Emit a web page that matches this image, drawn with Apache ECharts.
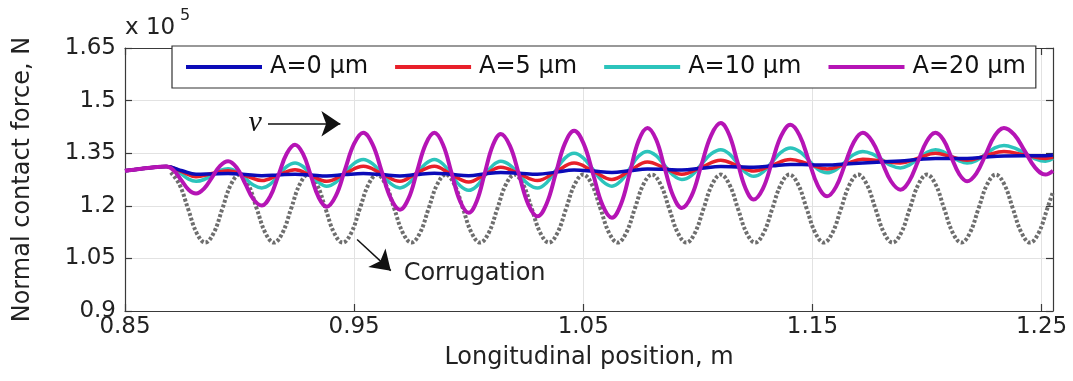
<!DOCTYPE html>
<html>
<head>
<meta charset="utf-8">
<script src="https://cdn.jsdelivr.net/npm/echarts@6/dist/echarts.min.js"></script>
<style>
html,body{margin:0;padding:0;background:#fff;}
#chart{width:1073px;height:381px;}
</style>
</head>
<body>
<div id="chart"></div>
<script>
// ---- data ----
const seriesNames = ['A=0 μm', 'A=5 μm', 'A=10 μm', 'A=20 μm'];
const xTickValues = [0.85, 0.95, 1.05, 1.15, 1.25];
const yTickValues = [0.9, 1.05, 1.2, 1.35, 1.5, 1.65];

// longitudinal position (m) for the small-amplitude curves (A=0, A=5)
const xPos = [0.85, 0.86, 0.868, 0.875, 0.881, 0.888, 0.895, 0.9025, 0.9097, 0.917,
  0.9242, 0.931, 0.938, 0.946, 0.954, 0.962, 0.970, 0.977, 0.985, 0.992,
  1.000, 1.007, 1.014, 1.022, 1.030, 1.038, 1.046, 1.0543, 1.0625, 1.0703,
  1.078, 1.0855, 1.093, 1.1015, 1.110, 1.1172, 1.1244, 1.1324, 1.1404, 1.1484,
  1.1564, 1.1642, 1.172, 1.1802, 1.1884, 1.1961, 1.2037, 1.2106, 1.2175, 1.2256,
  1.2336, 1.2427, 1.2517, 1.255];

// normal contact force (x 1e5 N)
const forceA0 = [1.300, 1.308, 1.312, 1.300, 1.290, 1.291, 1.292, 1.289, 1.286, 1.288,
  1.290, 1.288, 1.285, 1.289, 1.292, 1.289, 1.285, 1.289, 1.293, 1.290,
  1.286, 1.291, 1.295, 1.293, 1.290, 1.296, 1.302, 1.299, 1.295, 1.300,
  1.305, 1.304, 1.302, 1.307, 1.312, 1.311, 1.310, 1.314, 1.318, 1.317,
  1.316, 1.319, 1.322, 1.325, 1.328, 1.332, 1.335, 1.335, 1.335, 1.339,
  1.342, 1.343, 1.343, 1.345];
const forceA5 = [1.300, 1.308, 1.312, 1.297, 1.283, 1.292, 1.300, 1.286, 1.272, 1.288,
  1.303, 1.287, 1.270, 1.292, 1.313, 1.292, 1.270, 1.292, 1.313, 1.291,
  1.268, 1.289, 1.310, 1.291, 1.272, 1.297, 1.322, 1.299, 1.275, 1.300,
  1.325, 1.308, 1.290, 1.310, 1.330, 1.315, 1.299, 1.316, 1.332, 1.319,
  1.305, 1.319, 1.333, 1.328, 1.322, 1.336, 1.350, 1.340, 1.330, 1.343,
  1.355, 1.345, 1.335, 1.338];

// longitudinal position (m) for the larger-amplitude curves (A=10, A=20)
const xFine = [0.85, 0.86, 0.868, 0.87125, 0.8745, 0.87775, 0.881,
  0.8845, 0.888, 0.8915, 0.895, 0.8987, 0.9024, 0.906, 0.9097,
  0.9133, 0.917, 0.9206, 0.9242, 0.9277, 0.9311, 0.9346, 0.938,
  0.942, 0.946, 0.950, 0.954, 0.958, 0.962, 0.966, 0.970,
  0.97375, 0.9775, 0.98125, 0.985, 0.98875, 0.9925, 0.99625, 1.000,
  1.0035, 1.007, 1.0105, 1.014, 1.018, 1.022, 1.026, 1.030,
  1.034, 1.038, 1.042, 1.046, 1.0501, 1.0543, 1.0584, 1.0625,
  1.0664, 1.0703, 1.0741, 1.078, 1.0818, 1.0855, 1.0893, 1.093,
  1.0973, 1.1015, 1.1058, 1.110, 1.1136, 1.1172, 1.1208, 1.1244,
  1.1284, 1.1324, 1.1364, 1.1404, 1.1444, 1.1484, 1.1524, 1.1564,
  1.1603, 1.1642, 1.1681, 1.172, 1.1761, 1.1802, 1.1843, 1.1884,
  1.1922, 1.1961, 1.1999, 1.2037, 1.2072, 1.2106, 1.2141, 1.2175,
  1.2215, 1.2256, 1.2296, 1.2336, 1.2381, 1.2427, 1.2472, 1.2517,
  1.255];
const forceA10 = [1.300, 1.308, 1.312, 1.306, 1.291, 1.276, 1.270,
  1.275, 1.288, 1.301, 1.306, 1.298, 1.279, 1.259, 1.251,
  1.261, 1.287, 1.312, 1.322, 1.312, 1.289, 1.266, 1.256,
  1.267, 1.294, 1.321, 1.332, 1.320, 1.292, 1.263, 1.251,
  1.263, 1.292, 1.320, 1.332, 1.319, 1.288, 1.257, 1.244,
  1.256, 1.286, 1.315, 1.327, 1.316, 1.289, 1.262, 1.251,
  1.266, 1.301, 1.336, 1.350, 1.336, 1.303, 1.270, 1.256,
  1.271, 1.306, 1.341, 1.355, 1.343, 1.315, 1.287, 1.275,
  1.287, 1.318, 1.348, 1.360, 1.349, 1.322, 1.295, 1.284,
  1.296, 1.325, 1.353, 1.365, 1.355, 1.330, 1.304, 1.294,
  1.303, 1.325, 1.346, 1.355, 1.348, 1.332, 1.315, 1.308,
  1.316, 1.334, 1.352, 1.360, 1.354, 1.341, 1.328, 1.322,
  1.329, 1.347, 1.365, 1.372, 1.365, 1.350, 1.334, 1.327,
  1.335];
const forceA20 = [1.300, 1.308, 1.312, 1.301, 1.274, 1.246, 1.235,
  1.249, 1.281, 1.314, 1.327, 1.309, 1.264, 1.219, 1.201,
  1.226, 1.288, 1.349, 1.374, 1.348, 1.286, 1.223, 1.197,
  1.228, 1.303, 1.377, 1.408, 1.376, 1.299, 1.221, 1.189,
  1.221, 1.299, 1.376, 1.408, 1.375, 1.294, 1.213, 1.180,
  1.213, 1.293, 1.372, 1.405, 1.371, 1.288, 1.204, 1.170,
  1.206, 1.292, 1.378, 1.414, 1.378, 1.290, 1.202, 1.166,
  1.204, 1.294, 1.385, 1.422, 1.389, 1.308, 1.227, 1.194,
  1.229, 1.315, 1.401, 1.436, 1.404, 1.327, 1.250, 1.218,
  1.249, 1.325, 1.400, 1.431, 1.401, 1.329, 1.257, 1.227,
  1.254, 1.318, 1.382, 1.408, 1.384, 1.327, 1.270, 1.246,
  1.270, 1.327, 1.384, 1.408, 1.388, 1.339, 1.290, 1.270,
  1.292, 1.346, 1.400, 1.422, 1.403, 1.356, 1.309, 1.289,
  1.300];

// corrugation profile (drawn on the same force scale)
const corrX = [0.87, 0.87375, 0.8775, 0.88125, 0.885, 0.88875, 0.8925, 0.89625,
  0.90, 0.90375, 0.9075, 0.91125, 0.915, 0.91875, 0.9225, 0.92625,
  0.93, 0.93375, 0.9375, 0.94125, 0.945, 0.94875, 0.9525, 0.95625,
  0.96, 0.96375, 0.9675, 0.97125, 0.975, 0.97875, 0.9825, 0.98625,
  0.99, 0.99375, 0.9975, 1.00125, 1.005, 1.00875, 1.0125, 1.01625,
  1.02, 1.02375, 1.0275, 1.03125, 1.035, 1.03875, 1.0425, 1.04625,
  1.05, 1.05375, 1.0575, 1.06125, 1.065, 1.06875, 1.0725, 1.07625,
  1.08, 1.08375, 1.0875, 1.09125, 1.095, 1.09875, 1.1025, 1.10625,
  1.11, 1.11375, 1.1175, 1.12125, 1.125, 1.12875, 1.1325, 1.13625,
  1.14, 1.14375, 1.1475, 1.15125, 1.155, 1.15875, 1.1625, 1.16625,
  1.17, 1.17375, 1.1775, 1.18125, 1.185, 1.18875, 1.1925, 1.19625,
  1.20, 1.20375, 1.2075, 1.21125, 1.215, 1.21875, 1.2225, 1.22625,
  1.23, 1.23375, 1.2375, 1.24125, 1.245, 1.24875, 1.2525, 1.255];
const corrY = [1.295, 1.261, 1.192, 1.123, 1.095, 1.123, 1.192, 1.261,
  1.289, 1.261, 1.192, 1.123, 1.095, 1.123, 1.192, 1.261,
  1.289, 1.261, 1.192, 1.123, 1.095, 1.123, 1.192, 1.261,
  1.289, 1.261, 1.192, 1.123, 1.095, 1.123, 1.192, 1.261,
  1.289, 1.261, 1.192, 1.123, 1.095, 1.123, 1.192, 1.261,
  1.289, 1.261, 1.192, 1.123, 1.095, 1.123, 1.192, 1.261,
  1.289, 1.261, 1.192, 1.123, 1.095, 1.123, 1.192, 1.261,
  1.289, 1.261, 1.192, 1.123, 1.095, 1.123, 1.192, 1.261,
  1.289, 1.261, 1.192, 1.123, 1.095, 1.123, 1.192, 1.261,
  1.289, 1.261, 1.192, 1.123, 1.095, 1.123, 1.192, 1.261,
  1.289, 1.261, 1.192, 1.123, 1.095, 1.123, 1.192, 1.261,
  1.289, 1.261, 1.192, 1.123, 1.095, 1.123, 1.192, 1.261,
  1.289, 1.261, 1.192, 1.123, 1.095, 1.123, 1.192, 1.240];

// annotation anchor points (data coordinates)
const vArrow = [[0.9124, 1.434], [0.9440, 1.434]];
const vLabelPos = [0.9068, 1.437];
const corrArrow = [[0.9513, 1.104], [0.9660, 1.015]];
const corrLabelPos = [0.9714, 1.005];

// ---- chart ----
const FONT = 'DejaVu Sans';
const colors = ['#0b0bb8', '#e8202a', '#2cc4bc', '#b514b5'];
const widths = [3.5, 3.5, 3.5, 4];
const zs = [4, 3, 2, 5];
const responses = [[xPos, forceA0], [xPos, forceA5], [xFine, forceA10], [xFine, forceA20]];

function zip(xs, ys) { return xs.map((x, i) => [x, ys[i]]); }

const series = responses.map((pair, i) => ({
  name: seriesNames[i],
  type: 'line',
  data: zip(pair[0], pair[1]),
  smooth: 0.4,
  showSymbol: false,
  symbol: 'none',
  color: colors[i],
  lineStyle: { color: colors[i], width: widths[i] },
  z: zs[i],
  emphasis: { disabled: true }
}));

series.unshift({
  name: 'Corrugation',
  type: 'line',
  data: zip(corrX, corrY),
  smooth: 0.4,
  showSymbol: false,
  symbol: 'none',
  lineStyle: { color: '#6e6e6e', width: 4, type: [3, 2] },
  z: 1,
  emphasis: { disabled: true },
  markLine: {
    silent: true,
    animation: false,
    symbol: ['none', 'arrow'],
    symbolSize: 19,
    label: { show: false },
    itemStyle: { color: '#111' },
    lineStyle: { color: '#111', width: 1.5, type: 'solid' },
    emphasis: { disabled: true },
    data: [
      [{ coord: vArrow[0] }, { coord: vArrow[1] }],
      [{ coord: corrArrow[0] }, { coord: corrArrow[1] }]
    ]
  },
  markPoint: {
    silent: true,
    animation: false,
    symbol: 'circle',
    symbolSize: 1,
    itemStyle: { color: 'rgba(0,0,0,0)' },
    data: [
      { coord: vLabelPos, label: { show: true, formatter: 'v', position: 'inside',
        color: '#111', fontSize: 30, fontStyle: 'italic', fontFamily: 'Liberation Serif' } },
      { coord: corrLabelPos, label: { show: true, formatter: 'Corrugation', position: 'right', distance: 0,
        color: '#222', fontSize: 24, fontFamily: FONT } }
    ]
  }
});

const axisLineStyle = { color: '#3a3a3a', width: 1.2 };
const tickLabel = { fontSize: 23, color: '#222', fontFamily: FONT };

const option = {
  animation: false,
  backgroundColor: '#fff',
  grid: { left: 125, right: 20, top: 48, bottom: 70, containLabel: false },
  legend: {
    data: seriesNames,
    left: 172,
    top: 46,
    orient: 'horizontal',
    icon: 'rect',
    itemWidth: 76,
    itemHeight: 4,
    itemGap: 27,
    padding: [9, 10, 9, 14],
    backgroundColor: '#fff',
    borderColor: '#333',
    borderWidth: 1.2,
    borderRadius: 0,
    selectedMode: false,
    textStyle: { fontSize: 24, color: '#111', fontFamily: FONT, padding: [0, 0, 0, 3] },
    z: 10
  },
  xAxis: [{
    type: 'value', min: 0.85, max: 1.255, position: 'bottom',
    axisLine: { show: true, onZero: false, lineStyle: axisLineStyle },
    axisTick: { show: true, inside: true, length: 7, customValues: xTickValues, lineStyle: axisLineStyle },
    axisLabel: Object.assign({ customValues: xTickValues, margin: 5, formatter: v => v.toFixed(2) }, tickLabel),
    splitLine: { show: true, lineStyle: { color: '#e2e2e2', width: 1 } },
    name: 'Longitudinal position, m', nameLocation: 'middle', nameGap: 35,
    nameTextStyle: { fontSize: 24, color: '#222', fontFamily: FONT }
  }, {
    type: 'value', min: 0.85, max: 1.255, position: 'top',
    axisLine: { show: true, onZero: false, lineStyle: axisLineStyle },
    axisTick: { show: true, inside: true, length: 7, customValues: xTickValues, lineStyle: axisLineStyle },
    axisLabel: { show: false },
    splitLine: { show: false }
  }],
  yAxis: [{
    type: 'value', min: 0.9, max: 1.65, interval: 0.15, position: 'left',
    axisLine: { show: true, onZero: false, lineStyle: axisLineStyle },
    axisTick: { show: true, inside: true, length: 7, customValues: yTickValues, lineStyle: axisLineStyle },
    axisLabel: Object.assign({ customValues: yTickValues, margin: 9,
      formatter: v => String(parseFloat(v.toFixed(2))) }, tickLabel),
    splitLine: { show: true, lineStyle: { color: '#e2e2e2', width: 1 } },
    name: 'Normal contact force, N', nameLocation: 'middle', nameGap: 90,
    nameTextStyle: { fontSize: 24, color: '#222', fontFamily: FONT }
  }, {
    type: 'value', min: 0.9, max: 1.65, interval: 0.15, position: 'right',
    axisLine: { show: true, onZero: false, lineStyle: axisLineStyle },
    axisTick: { show: true, inside: true, length: 7, customValues: yTickValues, lineStyle: axisLineStyle },
    axisLabel: { show: false },
    splitLine: { show: false }
  }],
  graphic: [
    { type: 'text', left: 125, top: 17, style: { text: 'x 10', font: '23px "DejaVu Sans"', fill: '#222' } },
    { type: 'text', left: 180, top: 8, style: { text: '5', font: '16px "DejaVu Sans"', fill: '#222' } }
  ],
  series: series
};

const chart = echarts.init(document.getElementById('chart'), null, { renderer: 'canvas' });
chart.setOption(option);
</script>
</body>
</html>
